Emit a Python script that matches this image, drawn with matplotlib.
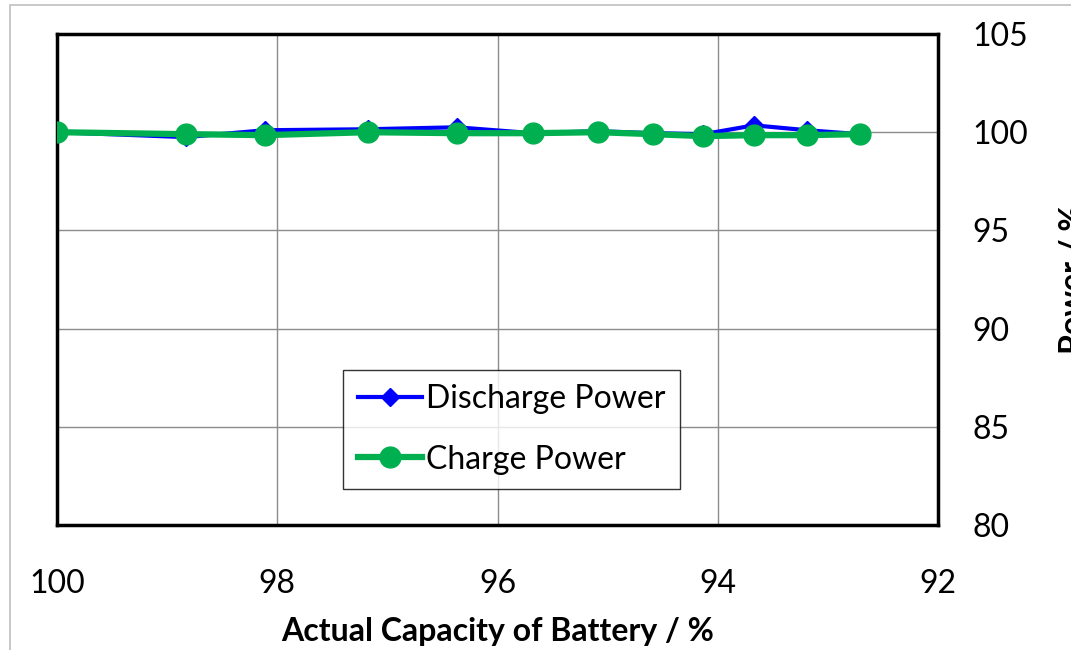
import numpy as np
import matplotlib.pyplot as plt
from matplotlib.patches import Rectangle

plt.rcParams['font.family'] = ['Lato', 'DejaVu Sans']

# Dados
capacidade = [100.0, 98.83, 98.11, 97.18, 96.37, 95.68, 95.09, 94.59, 94.13, 93.67, 93.19, 92.71]
pot_descarga = [100.0, 99.75, 100.1, 100.15, 100.25, 99.95, 100.05, 99.95, 99.9, 100.35, 100.1, 99.9]
pot_carga = [100.0, 99.9, 99.85, 100.0, 99.95, 99.95, 100.0, 99.9, 99.8, 99.85, 99.85, 99.9]

x_ticks = [100, 98, 96, 94, 92]
y_ticks = [80, 85, 90, 95, 100, 105]

fig = plt.figure(figsize=(10.71, 6.5), dpi=100)
# borda cinza da area do grafico
fig.patches.append(Rectangle((10 / 1071, -0.05), 1.2, 1 - 5 / 650 + 0.05,
                             transform=fig.transFigure, fill=False,
                             edgecolor='#bfbfbf', linewidth=1.2))

ax = fig.add_axes([57 / 1071, 1 - 525 / 650, 881 / 1071, 491 / 650])

ax.plot(capacidade, pot_descarga, color='#0000ff', linewidth=3, marker='D',
        markersize=9, label='Discharge Power', zorder=3)
ax.plot(capacidade, pot_carga, color='#00b050', linewidth=4.5, marker='o',
        markersize=15, label='Charge Power', zorder=4)

ax.set_xlim(100, 92)
ax.set_ylim(80, 105)
ax.set_xticks(x_ticks)
ax.set_yticks(y_ticks)
ax.yaxis.tick_right()
ax.tick_params(axis='both', length=0, labelsize=23)
ax.tick_params(axis='x', pad=32)
ax.tick_params(axis='y', pad=25)
ax.grid(True, color='#8c8c8c', linewidth=1)
ax.set_axisbelow(True)
for s in ax.spines.values():
    s.set_linewidth(2.5)
    s.set_color('black')

ax.set_xlabel('Actual Capacity of Battery / %', fontsize=23, fontweight='bold', labelpad=13)
ax.yaxis.set_label_position('right')
ax.set_ylabel('Power / %', fontsize=23, fontweight='bold', labelpad=22)

leg = ax.legend(loc='upper left', bbox_to_anchor=(0.325, 0.316), fontsize=23,
                frameon=True, fancybox=False, edgecolor='black',
                handlelength=2.0, handletextpad=0.15, labelspacing=0.95,
                borderpad=0.45, borderaxespad=0)
leg.get_frame().set_linewidth(1)

fig.savefig('out.png', dpi=100)
